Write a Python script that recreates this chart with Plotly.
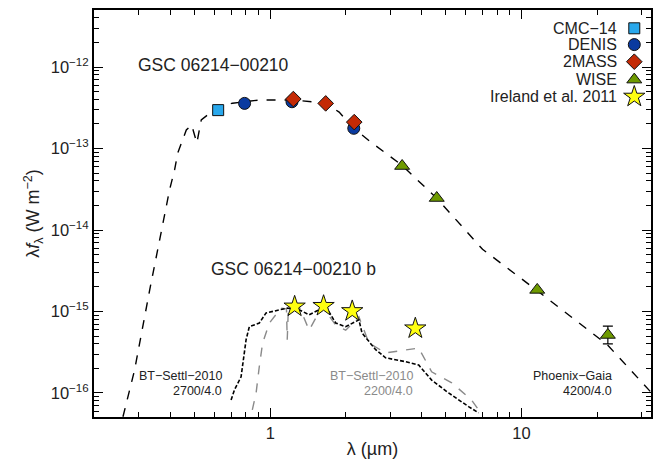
import plotly.graph_objects as go

# ---------------- data ----------------
cmc_wl = [0.62]
cmc_f = [2.96e-13]

denis_wl = [0.79, 1.22, 2.15]
denis_f = [3.58e-13, 3.75e-13, 1.77e-13]

tmass_wl = [1.235, 1.662, 2.159]
tmass_f = [4.05e-13, 3.58e-13, 2.11e-13]

wise_wl = [3.35, 4.6, 11.56, 22.09]
wise_f = [6.1e-14, 2.47e-14, 1.84e-15, 5.15e-16]
wise_err_up = [0, 0, 0, 1.45e-16]
wise_err_lo = [0, 0, 0, 1.15e-16]

ireland_wl = [1.25, 1.63, 2.12, 3.78]
ireland_f = [1.15e-15, 1.17e-15, 1.01e-15, 6.2e-16]

# Phoenix-Gaia 4200/4.0 model of the primary
prim_wl = [0.259, 0.288, 0.331, 0.363, 0.397, 0.416, 0.428, 0.463, 0.486, 0.510,
           0.531, 0.609, 0.707, 0.904, 1.22, 1.468, 1.66, 1.88, 2.115, 2.54,
           3.35, 4.6, 7.0, 11.56, 22.0, 33.0]
prim_f = [5.1e-17, 1.9e-16, 1.84e-15, 7.6e-15, 3.1e-14, 5.5e-14, 8.8e-14, 1.69e-13, 1.95e-13, 1.17e-13,
          2.24e-13, 3.14e-13, 3.6e-13, 3.94e-13, 3.94e-13, 3.75e-13, 3.6e-13, 2.8e-13, 1.84e-13, 1.17e-13,
          6.2e-14, 2.45e-14, 5.8e-15, 1.8e-15, 3.9e-16, 1.0e-16]

# BT-Settl-2010 2700/4.0 (black)
bt27_wl = [0.698, 0.720, 0.765, 0.801, 0.825, 0.904, 0.962, 1.086, 1.168, 1.303,
           1.428, 1.564, 1.664, 1.823, 1.997, 2.254, 2.318, 2.627, 2.878, 3.454,
           3.90, 4.39, 5.13, 6.16, 6.75]
bt27_f = [8.2e-17, 1.09e-16, 1.58e-16, 4.5e-16, 6.5e-16, 7.2e-16, 9.6e-16, 1.05e-15, 1.10e-15, 1.05e-15,
          9.1e-16, 1.05e-15, 1.15e-15, 7.2e-16, 6.5e-16, 7.9e-16, 5.45e-16, 3.4e-16, 2.7e-16, 2.42e-16,
          2.2e-16, 1.44e-16, 1.0e-16, 6.8e-17, 5.7e-17]

# BT-Settl-2010 2200/4.0 (grey)
bt22_wl = [0.848, 0.878, 0.904, 0.932, 0.991, 1.103, 1.16, 1.168, 1.18, 1.303,
           1.428, 1.608, 1.823, 1.997, 2.254, 2.47, 2.878, 3.454, 3.90, 4.39,
           5.28, 6.33, 6.75]
bt22_f = [6.2e-17, 1.0e-16, 2.1e-16, 4.1e-16, 7.2e-16, 1.10e-15, 1.08e-15, 4.5e-16, 1.08e-15, 1.15e-15,
          5.9e-16, 1.15e-15, 6.8e-16, 5.9e-16, 8.6e-16, 4.1e-16, 3.1e-16, 3.4e-16, 3.56e-16, 1.82e-16,
          1.33e-16, 8.2e-17, 6.2e-17]

legend_labels = ["CMC\u221214", "DENIS", "2MASS", "WISE", "Ireland et al. 2011"]

# ---------------- styles ----------------
FONT = "Liberation Sans, Arial, Helvetica, sans-serif"
C_CMC = "#29a8ec"
C_DENIS = "#0a3aa0"
C_2MASS = "#c42a05"
C_WISE = "#6e9a00"
C_IREL = "#ffff10"

fig = go.Figure()

# models
fig.add_trace(go.Scatter(x=prim_wl, y=prim_f, mode="lines",
                         line=dict(color="black", width=1.4, dash="dash"), hoverinfo="skip"))
fig.add_trace(go.Scatter(x=bt22_wl, y=bt22_f, mode="lines",
                         line=dict(color="#8a8a8a", width=1.4, dash="dash"), hoverinfo="skip"))
fig.add_trace(go.Scatter(x=bt27_wl, y=bt27_f, mode="lines",
                         line=dict(color="black", width=1.6, dash="4px,2px"), hoverinfo="skip"))

# WISE error bar (only nonzero)
idx = [i for i in range(len(wise_wl)) if wise_err_up[i] > 0]
fig.add_trace(go.Scatter(x=[wise_wl[i] for i in idx], y=[wise_f[i] for i in idx], mode="markers",
                         marker=dict(size=1, color="black"),
                         error_y=dict(type="data", symmetric=False,
                                      array=[wise_err_up[i] for i in idx],
                                      arrayminus=[wise_err_lo[i] for i in idx],
                                      color="black", thickness=1.2, width=5)))

mk_line = dict(color="#111111", width=1)
fig.add_trace(go.Scatter(x=cmc_wl, y=cmc_f, mode="markers",
                         marker=dict(symbol="square", size=11, color=C_CMC, line=mk_line, opacity=1)))
fig.add_trace(go.Scatter(x=denis_wl, y=denis_f, mode="markers",
                         marker=dict(symbol="circle", size=12, color=C_DENIS, line=mk_line, opacity=1)))
fig.add_trace(go.Scatter(x=tmass_wl, y=tmass_f, mode="markers",
                         marker=dict(symbol="diamond", size=12, color=C_2MASS, line=mk_line, opacity=1)))
fig.add_trace(go.Scatter(x=wise_wl, y=wise_f, mode="markers",
                         marker=dict(symbol="triangle-up", size=13, color=C_WISE, line=mk_line, opacity=1)))
fig.add_trace(go.Scatter(x=ireland_wl, y=ireland_f, mode="markers",
                         marker=dict(symbol="star", size=16, color=C_IREL, line=mk_line, opacity=1)))

# legend (text right-aligned, symbol on the right) on an overlay axis
leg_y = [0.955, 0.915, 0.873, 0.829, 0.787]
leg_sym = ["square", "circle", "diamond", "triangle-up", "star"]
leg_col = [C_CMC, C_DENIS, C_2MASS, C_WISE, C_IREL]
leg_size = [11, 12, 12, 13, 16]
fig.add_trace(go.Scatter(x=[0.97] * 5, y=leg_y, mode="markers", xaxis="x2", yaxis="y2",
                         marker=dict(symbol=leg_sym, size=leg_size, color=leg_col, line=mk_line, opacity=1)))
for lab, yy in zip(legend_labels, leg_y):
    fig.add_annotation(x=0.943, y=yy, xref="x2", yref="y2", text=lab, showarrow=False,
                       xanchor="right", yanchor="middle", font=dict(size=16, color="#222"))

ann = [
    dict(x=0.077, y=0.865, text="GSC 06214\u221200210", xanchor="left", size=17.5, color="#222"),
    dict(x=0.2075, y=0.364, text="GSC 06214\u221200210 b", xanchor="left", size=17.5, color="#222"),
    dict(x=0.231, y=0.100, text="BT\u2212Settl\u22122010", xanchor="right", size=12.5, color="#222"),
    dict(x=0.231, y=0.065, text="2700/4.0", xanchor="right", size=12.5, color="#222"),
    dict(x=0.574, y=0.100, text="BT\u2212Settl\u22122010", xanchor="right", size=12.5, color="#8a8a8a"),
    dict(x=0.574, y=0.065, text="2200/4.0", xanchor="right", size=12.5, color="#8a8a8a"),
    dict(x=0.932, y=0.100, text="Phoenix\u2212Gaia", xanchor="right", size=12.5, color="#222"),
    dict(x=0.932, y=0.065, text="4200/4.0", xanchor="right", size=12.5, color="#222"),
]
for a in ann:
    fig.add_annotation(x=a["x"], y=a["y"], xref="x2", yref="y2", text=a["text"], showarrow=False,
                       xanchor=a["xanchor"], yanchor="middle", borderpad=0,
                       font=dict(size=a["size"], color=a["color"]))

axis_common = dict(showline=True, linecolor="black", linewidth=2, mirror="ticks",
                   ticks="inside", tickcolor="black", tickwidth=1.2, ticklen=9,
                   showgrid=False, zeroline=False,
                   tickfont=dict(size=16.5, color="#222"))

fig.update_layout(
    width=658, height=471,
    margin=dict(l=94, r=5, t=10, b=54),
    paper_bgcolor="white", plot_bgcolor="white",
    showlegend=False,
    font=dict(family=FONT, color="#222"),
    xaxis=dict(type="log", range=[-0.702, 1.516],
               tickvals=[1, 10], ticktext=["1", "10"],
               minor=dict(ticks="inside", ticklen=5, tickcolor="black", tickwidth=1,
                          tickvals=[0.2, 0.3, 0.4, 0.5, 0.6, 0.7, 0.8, 0.9,
                                    2, 3, 4, 5, 6, 7, 8, 9, 20, 30]),
               title=dict(text="\u03bb (\u00b5m)", font=dict(size=18), standoff=2),
               **axis_common),
    yaxis=dict(type="log", range=[-16.295, -11.30],
               tickvals=[1e-16, 1e-15, 1e-14, 1e-13, 1e-12],
               ticktext=["10<sup>\u221216</sup>", "10<sup>\u221215</sup>", "10<sup>\u221214</sup>",
                         "10<sup>\u221213</sup>", "10<sup>\u221212</sup>"],
               minor=dict(ticks="inside", ticklen=5, tickcolor="black", tickwidth=1,
                          tickvals=[m * 10.0 ** e for e in range(-17, -11) for m in range(2, 10)]),
               title=dict(text="\u03bb<i>f</i><sub>\u03bb</sub> (W m<sup>\u22122</sup>)",
                          font=dict(size=18), standoff=6),
               **axis_common),
    xaxis2=dict(overlaying="x", range=[0, 1], visible=False, fixedrange=True),
    yaxis2=dict(overlaying="y", range=[0, 1], visible=False, fixedrange=True),
)

fig.write_html("out.html")
